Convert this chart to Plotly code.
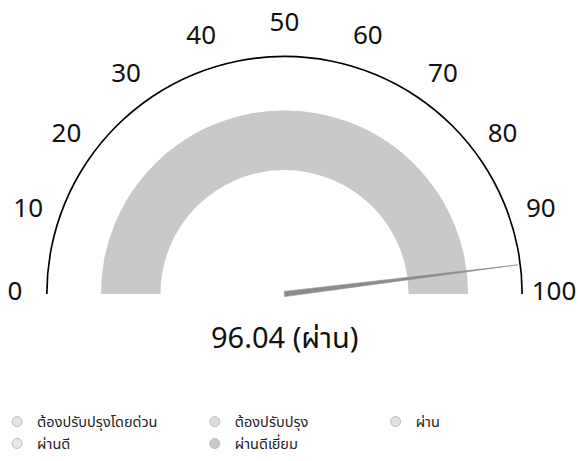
import math
import plotly.graph_objects as go

# ---- data ----
axis_min = 0
axis_max = 100
tick_values = [0, 10, 20, 30, 40, 50, 60, 70, 80, 90, 100]
tick_labels = ["0", "10", "20", "30", "40", "50", "60", "70", "80", "90", "100"]
gauge_value = 96.04
gauge_status = "ผ่าน"
categories = ["ต้องปรับปรุงโดยด่วน", "ต้องปรับปรุง", "ผ่าน", "ผ่านดี", "ผ่านดีเยี่ยม"]
category_colors = ["#e4e4e4", "#dcdcdc", "#e0e0e0", "#e8e8e8", "#c8c8c8"]
category_legend = ["legend", "legend2", "legend3", "legend", "legend2"]

FONT = "Noto Sans Thai, Noto Sans, Open Sans, sans-serif"

# ---- geometry (pixels) ----
W, H = 578, 461
CX, CY, R = 284.5, 294.0, 238.5   # gauge centre and outer-arc radius
R_MAX = 1.19                       # radial range (arc = 1.0) so labels fit inside


def to_deg(v):
    return (v - axis_min) / (axis_max - axis_min) * 180.0


pol_dom_x = [(CX - R * R_MAX) / W, (CX + R * R_MAX) / W]
pol_dom_y = [1 - CY / H, 1 - (CY - R * R_MAX) / H]
y_ext = 0.05
cart_dom_x = [(CX - R) / W, (CX + R) / W]
cart_dom_y = [1 - (CY + y_ext * R) / H, 1 - (CY - R) / H]

fig = go.Figure()

mid_deg = to_deg((axis_min + axis_max) / 2)
span_deg = to_deg(axis_max) - to_deg(axis_min)

# gauge band (full axis range)
band_inner, band_outer = 0.52, 0.77
fig.add_trace(go.Barpolar(
    r=[band_outer - band_inner], base=[band_inner],
    theta=[mid_deg], width=[span_deg],
    marker=dict(color="#c9c9c9", line=dict(width=0)),
    showlegend=False, hoverinfo="skip",
))
# outer arc (axis line)
fig.add_trace(go.Barpolar(
    r=[0.007], base=[0.993], theta=[mid_deg], width=[span_deg],
    marker=dict(color="#000", line=dict(width=0)),
    showlegend=False, hoverinfo="skip",
))
# tick labels placed on the polar scale
fig.add_trace(go.Scatterpolar(
    r=[1.13] * len(tick_values), theta=[to_deg(v) for v in tick_values],
    mode="text", text=tick_labels, textposition="middle center",
    textfont=dict(size=26, family=FONT, color="#111"),
    showlegend=False, hoverinfo="skip",
))

# legend entries
for name, col, lg in zip(categories, category_colors, category_legend):
    fig.add_trace(go.Scatterpolar(
        r=[None], theta=[mid_deg], mode="markers", name=name,
        marker=dict(symbol="circle", size=10, color=col,
                    line=dict(color="#bdbdbd", width=1)),
        legend=lg,
    ))

# invisible cartesian trace so the overlay axes exist (needle frame)
fig.add_trace(go.Scatter(x=[None], y=[None], xaxis="x", yaxis="y",
                         showlegend=False, hoverinfo="skip"))

# needle computed from the value (cartesian overlay with same scale as polar)
phi = math.radians(180 - to_deg(gauge_value))
tip_len, half_w = 0.985, 0.011
ux, uy = math.cos(phi), math.sin(phi)
px, py = -uy, ux
pts = [(ux * tip_len, uy * tip_len), (px * half_w, py * half_w), (-px * half_w, -py * half_w)]
path = "M " + " L ".join(f"{x:.5f},{y:.5f}" for x, y in pts) + " Z"
fig.add_shape(type="path", path=path, xref="x", yref="y", layer="above",
              fillcolor="#8c8c8c", line=dict(color="#8c8c8c", width=0.6))

fig.add_annotation(
    x=CX / W, y=0.213, xref="paper", yref="paper",
    text=f"{gauge_value:.2f} ({gauge_status})", showarrow=False,
    font=dict(size=29, family=FONT, color="#111"),
)

legend_common = dict(
    orientation="v", yanchor="top", y=0.120, xanchor="left",
    font=dict(size=14.5, family=FONT, color="#222"), bgcolor="rgba(0,0,0,0)",
    tracegroupgap=0, itemclick=False,
)

fig.update_layout(
    width=W, height=H,
    margin=dict(l=0, r=0, t=0, b=0, autoexpand=False),
    paper_bgcolor="white", plot_bgcolor="rgba(0,0,0,0)",
    polar=dict(
        domain=dict(x=pol_dom_x, y=pol_dom_y),
        sector=[0, 180], bgcolor="rgba(0,0,0,0)",
        angularaxis=dict(
            rotation=180, direction="clockwise", thetaunit="degrees",
            showticklabels=False, showgrid=False, showline=False, ticks="",
        ),
        radialaxis=dict(visible=False, range=[0, R_MAX]),
    ),
    xaxis=dict(domain=cart_dom_x, range=[-1, 1], visible=False, fixedrange=True),
    yaxis=dict(domain=cart_dom_y, range=[-y_ext, 1], visible=False, fixedrange=True),
    legend=dict(x=-0.005, **legend_common),
    legend2=dict(x=0.337, **legend_common),
    legend3=dict(x=0.650, **legend_common),
)

fig.write_html("out.html", config={"displayModeBar": False},
               post_script="document.body.style.margin='0';")
